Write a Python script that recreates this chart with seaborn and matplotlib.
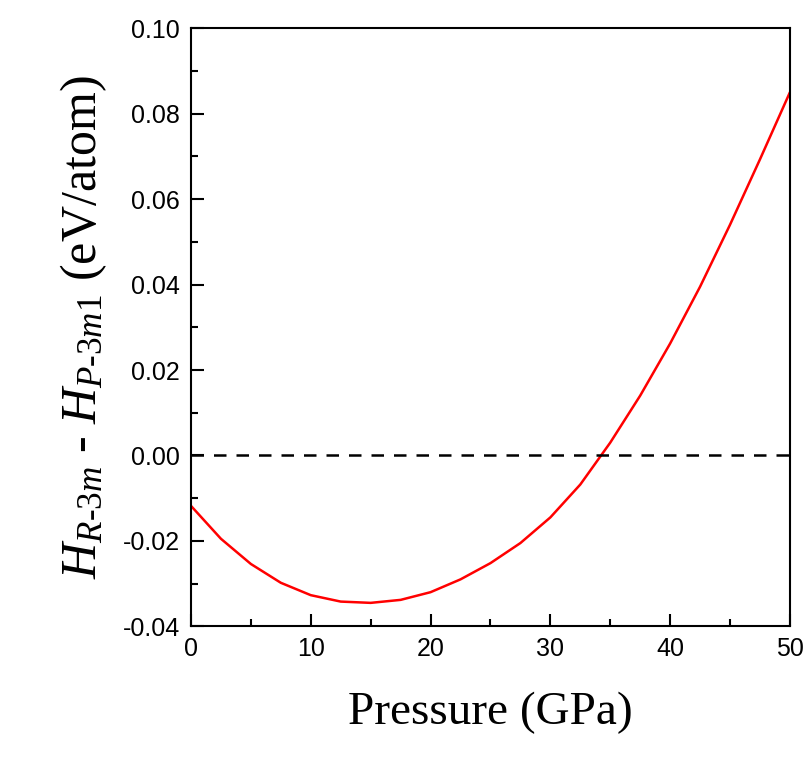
import matplotlib
matplotlib.use("Agg")
import matplotlib.pyplot as plt
import seaborn as sns
import pandas as pd
from matplotlib.ticker import MultipleLocator, FormatStrFormatter

# enthalpy difference vs pressure
pressure = [0, 2.5, 5, 7.5, 10, 12.5, 15, 17.5, 20, 22.5, 25, 27.5, 30,
            32.5, 35, 37.5, 40, 42.5, 45, 47.5, 50]
dH = [-0.0118, -0.0195, -0.0254, -0.0298, -0.0327, -0.0342, -0.0345, -0.0338,
      -0.0320, -0.0290, -0.0252, -0.0205, -0.0145, -0.0068, 0.0030, 0.0140,
      0.0262, 0.0395, 0.0540, 0.0693, 0.0850]
df = pd.DataFrame({"P": pressure, "dH": dH})

sns.set_theme(style="ticks")
plt.rcParams["font.family"] = ["Liberation Sans", "DejaVu Sans"]
plt.rcParams["mathtext.fontset"] = "custom"
plt.rcParams["mathtext.rm"] = "Liberation Serif"
plt.rcParams["mathtext.it"] = "Liberation Serif:italic"
plt.rcParams["text.color"] = "black"
plt.rcParams["axes.labelcolor"] = "black"
plt.rcParams["xtick.color"] = "black"
plt.rcParams["ytick.color"] = "black"

fig = plt.figure(figsize=(8.11, 7.62), dpi=100)
ax = fig.add_axes([0.2355, 0.178, 0.7385, 0.785])
sns.lineplot(data=df, x="P", y="dH", color="red", linewidth=1.8, ax=ax)
ax.axhline(0, color="black", linestyle=(0, (5, 4)), linewidth=1.8)

ax.set_xlim(0, 50)
ax.set_ylim(-0.04, 0.10)
ax.xaxis.set_major_locator(MultipleLocator(10))
ax.xaxis.set_minor_locator(MultipleLocator(5))
ax.yaxis.set_major_locator(MultipleLocator(0.02))
ax.yaxis.set_minor_locator(MultipleLocator(0.01))
ax.yaxis.set_major_formatter(FormatStrFormatter("%.2f"))
ax.tick_params(which="major", direction="in", length=9, width=1.5, labelsize=18, pad=8)
ax.tick_params(which="minor", direction="in", length=5, width=1.5)
for s in ax.spines.values():
    s.set_linewidth(1.5)
    s.set_color("black")

ax.set_xlabel("Pressure (GPa)", fontsize=34, family="Liberation Serif", labelpad=22)
ax.set_ylabel(r"$H_{R\text{-}3m}$ - $H_{P\text{-}3m1}$ (eV/atom)",
              fontsize=36, family="Liberation Serif", labelpad=10)

fig.savefig("out.png", dpi=100)
